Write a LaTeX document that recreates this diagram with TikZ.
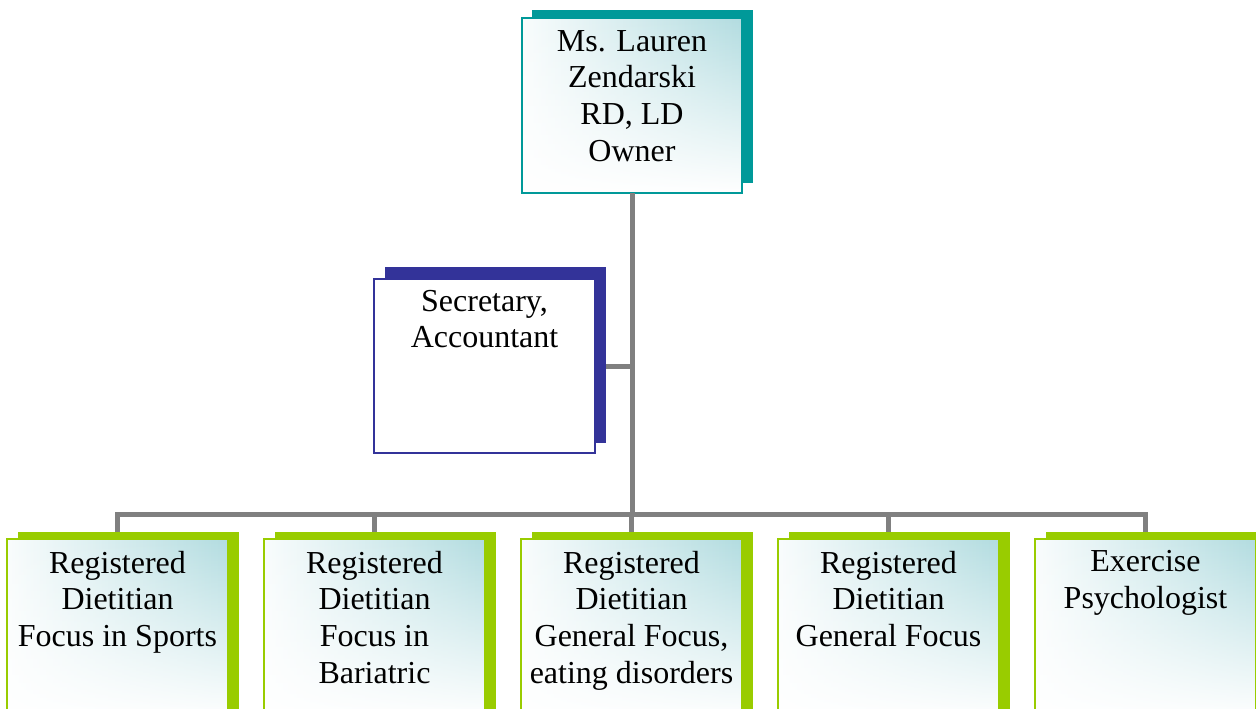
\documentclass[tikz,border=0pt]{standalone}
\usepackage{fontspec}
\setmainfont{Liberation Serif}
\usetikzlibrary{fadings}
\definecolor{tealsh}{RGB}{0,153,153}
\definecolor{bluesh}{RGB}{51,51,153}
\definecolor{greensh}{RGB}{153,204,0}
\definecolor{conngray}{RGB}{128,128,128}
\definecolor{fillteal}{RGB}{178,220,224}
\tikzfading[name=vfade, top color=transparent!100, middle color=transparent!55, bottom color=transparent!0]
\begin{document}
\begin{tikzpicture}[x=1pt,y=-1pt,
  boxbase/.style={rectangle, inner sep=0pt, outer sep=0pt, line width=1.5pt},
  front/.style={boxbase, left color=fillteal!8!white, right color=fillteal},
  plainfront/.style={boxbase, draw=#1, fill=white},
  shadowbox/.style={boxbase, fill=#1},
  whitefade/.style={fill=white, path fading=vfade},
  frame/.style={draw=#1, line width=1.5pt},
  conn/.style={draw=conngray, line width=5pt},
  lbl/.style={anchor=north, inner sep=0pt, outer sep=0pt, align=center, font=\fontsize{32}{36.7}\selectfont}]
\useasboundingbox (0,0) rectangle (1256,709);
\clip (0,0) rectangle (1256,709);
\fill[white] (0,0) rectangle (1256,709);

% top box
\node[shadowbox=tealsh, minimum width=221pt, minimum height=173pt] (tops) at (642.5,96.5) {};
\node[front, minimum width=220pt, minimum height=175pt] (top) at (632,105.5) {};
\fill[whitefade] (top.south west) rectangle (top.north east);
\draw[frame=tealsh] (top.south west) rectangle (top.north east);
\node[lbl] (toptxt) at (632,30.3) {Ms. Lauren\\Zendarski\\RD, LD\\Owner};

% secretary
\node[shadowbox=bluesh, minimum width=221pt, minimum height=176pt] (secs) at (495.5,355) {};
\node[plainfront=bluesh, minimum width=221pt, minimum height=174pt] (sec) at (484.5,366) {};
\node[lbl] (sectxt) at (484.5,289.9) {Secretary,\\Accountant};

% bottom boxes
\foreach \i/\t in {1/{Registered\\Dietitian\\Focus in Sports},
                   2/{Registered\\Dietitian\\Focus in\\Bariatric},
                   3/{Registered\\Dietitian\\General Focus,\\eating disorders},
                   4/{Registered\\Dietitian\\General Focus},
                   5/{Exercise\\Psychologist}}{
  \pgfmathsetmacro{\cx}{117.5+257*(\i-1)}
  \node[shadowbox=greensh, minimum width=221pt, minimum height=190pt] (b\i s) at (\cx+11,627) {};
  \node[front, minimum width=221pt, minimum height=180pt] (b\i) at (\cx,629) {};
  \fill[whitefade] (b\i.south west) rectangle (b\i.north east);
  \draw[frame=greensh] (b\i.south west) rectangle (b\i.north east);
  \node[lbl] (b\i txt) at (\cx,550.8) {\t};
}

% connectors
\coordinate (bar) at (632,514.5);
\draw[conn] (top.south) -- (top.south |- bar);
\draw[conn] (secs.east |- sec.center) -- (top.south |- sec.center);
\draw[conn] (b1.north |- b1s.north) -- (b1.north |- bar) -- (b5.north |- bar) -- (b5.north |- b5s.north);
\draw[conn] (b2.north |- bar) -- (b2.north |- b2s.north);
\draw[conn] (b3.north |- bar) -- (b3.north |- b3s.north);
\draw[conn] (b4.north |- bar) -- (b4.north |- b4s.north);
\end{tikzpicture}
\end{document}
